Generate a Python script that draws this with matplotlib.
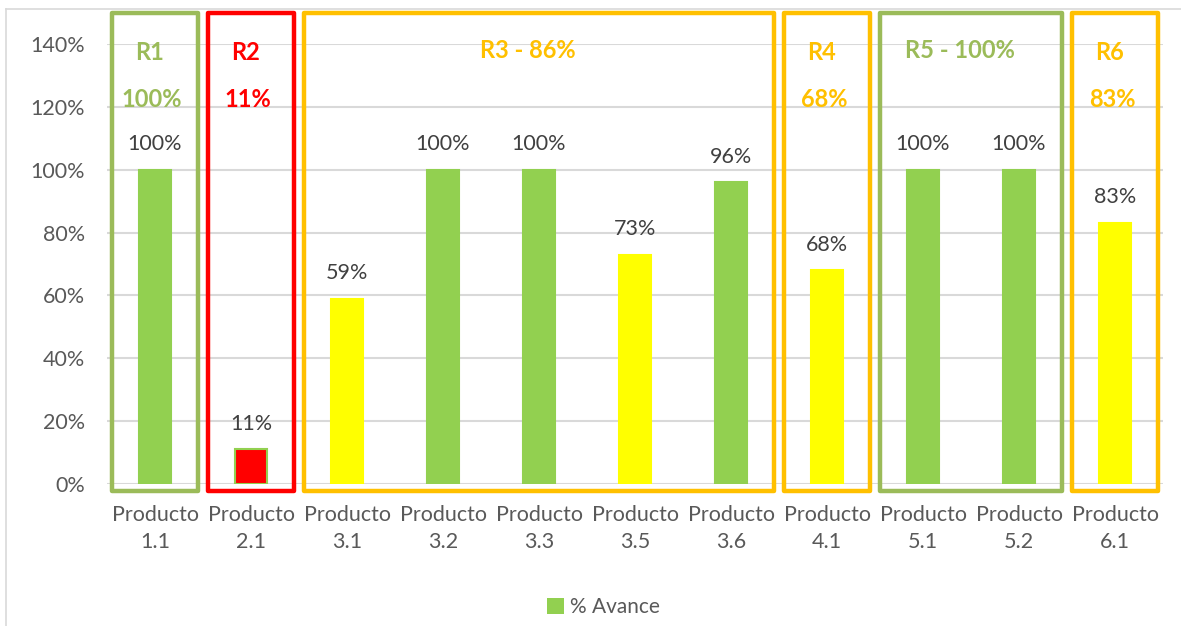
import numpy as np
import matplotlib
matplotlib.use("Agg")
import matplotlib.pyplot as plt
from matplotlib.patches import Rectangle, Patch
from matplotlib.lines import Line2D

plt.rcParams['font.family'] = ['Lato', 'DejaVu Sans']

# data
productos = ['1.1', '2.1', '3.1', '3.2', '3.3', '3.5', '3.6', '4.1', '5.1', '5.2', '6.1']
avance = [100, 11, 59, 100, 100, 73, 96, 68, 100, 100, 83]

grupos = ['R1', 'R2', 'R3', 'R4', 'R5', 'R6']
grupo_avance = [100, 11, 86, 68, 100, 83]
grupo_desde = [0, 1, 2, 7, 8, 10]
grupo_hasta = [0, 1, 6, 7, 9, 10]

VERDE = '#92D050'
AMARILLO = '#FFFF00'
ROJO = '#FF0000'
BORDE_VERDE = '#9BBB59'
BORDE_NARANJA = '#FFC000'


def color_barra(v):
    if v >= 90:
        return VERDE
    if v >= 50:
        return AMARILLO
    return ROJO


def color_grupo(v):
    if v >= 90:
        return BORDE_VERDE
    if v >= 50:
        return BORDE_NARANJA
    return ROJO


fig = plt.figure(figsize=(11.81, 6.26), dpi=100)
ax = fig.add_axes([107 / 1181, 142 / 626, 1056 / 1181, 440 / 626])

x = np.arange(len(productos))
vals = np.array(avance) / 100.0
colores = [color_barra(v) for v in avance]
bordes = [VERDE if c == ROJO else c for c in colores]
ax.bar(x, vals, 0.33, color=colores, edgecolor=bordes, linewidth=1.5, zorder=3)

for xi, v in zip(x, avance):
    ax.annotate(f'{v}%', (xi, v / 100.0), xytext=(0, 18.5), textcoords='offset points',
                ha='center', va='center', fontsize=15.5, color='#404040', zorder=5)

ax.set_xlim(-0.5, len(productos) - 0.5)
ax.set_ylim(0, 1.4)
ax.set_yticks(np.arange(0, 1.41, 0.2))
ax.set_yticklabels([f'{int(round(t * 100))}%' for t in np.arange(0, 1.41, 0.2)])
ax.set_xticks(x)
ax.set_xticklabels([f'Producto\n{p}' for p in productos], linespacing=1.45)
ax.tick_params(axis='both', length=0, labelsize=15.5, labelcolor='#595959')
ax.tick_params(axis='y', pad=16)
ax.tick_params(axis='x', pad=15)
for s in ax.spines.values():
    s.set_visible(False)
ax.grid(axis='y', color='#D9D9D9', linewidth=1.5, zorder=0)
ax.set_axisbelow(True)

# cajas de grupos
for nombre, gv, a, b in zip(grupos, grupo_avance, grupo_desde, grupo_hasta):
    c = color_grupo(gv)
    x0 = a - 0.45
    x1 = b + 0.45
    ax.add_patch(Rectangle((x0, -0.022), x1 - x0, 1.522, fill=False, edgecolor=c,
                           linewidth=3.2, clip_on=False, zorder=4, joinstyle='round'))
    cx = (a + b) / 2.0
    if b - a >= 1:
        ax.text(cx - 0.12, 1.38, f'{nombre} - {gv}%', ha='center', va='center', fontsize=17,
                fontweight='bold', color=c, zorder=5)
    else:
        ax.text(cx - 0.06, 1.374, nombre, ha='center', va='center', fontsize=17,
                fontweight='bold', color=c, zorder=5)
        ax.text(cx - 0.03, 1.224, f'{gv}%', ha='center', va='center', fontsize=17,
                fontweight='bold', color=c, zorder=5)

# marco del grafico
fy = 1 - 9 / 626
fx = 6 / 1181
fig.add_artist(Line2D([fx, fx], [0, fy], transform=fig.transFigure, color='#D9D9D9', linewidth=1.2))
fig.add_artist(Line2D([fx, 1], [fy, fy], transform=fig.transFigure, color='#D9D9D9', linewidth=1.2))

fig.legend(handles=[Patch(facecolor=VERDE, label='% Avance')], loc='center',
           bbox_to_anchor=(0.5 + 13 / 1181, 1 - 607 / 626), frameon=False, fontsize=15,
           handlelength=0.8, handleheight=0.8, handletextpad=0.3, labelcolor='#595959')

fig.savefig('out.png', dpi=100)
